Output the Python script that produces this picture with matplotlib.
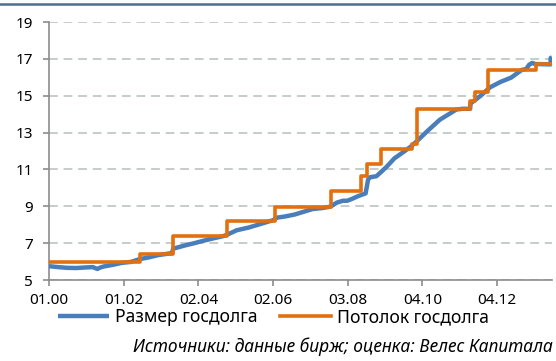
import datetime as dt
import matplotlib
matplotlib.use("Agg")
import matplotlib.pyplot as plt
import matplotlib.dates as mdates
from matplotlib.lines import Line2D

plt.rcParams['font.family'] = ['Noto Sans', 'DejaVu Sans']

# Размер госдолга США, трлн долл.
debt_dates = [
    "2000-01-01", "2000-04-01", "2000-07-01", "2000-10-01", "2001-01-01", "2001-03-15",
    "2001-05-01", "2001-06-01", "2001-07-01", "2001-10-01", "2002-01-01", "2002-04-01",
    "2002-06-28", "2002-10-01", "2003-01-01", "2003-05-20", "2003-06-01", "2003-10-01",
    "2004-01-01", "2004-04-01", "2004-07-01", "2004-10-15", "2004-11-20", "2005-03-01",
    "2005-07-01", "2005-10-01", "2006-01-01", "2006-03-15", "2006-03-25", "2006-07-01",
    "2006-10-01", "2007-01-01", "2007-04-01", "2007-07-01", "2007-09-28", "2007-12-01",
    "2008-02-01", "2008-03-15", "2008-05-01", "2008-07-01", "2008-09-15", "2008-10-10",
    "2008-11-01", "2009-01-01", "2009-02-15", "2009-04-15", "2009-07-01", "2009-10-01",
    "2009-12-15", "2010-02-15", "2010-06-01", "2010-10-01", "2011-03-15", "2011-05-16",
    "2011-08-01", "2011-08-05", "2011-11-15", "2012-02-15", "2012-06-01", "2012-09-15",
    "2012-12-31", "2013-02-15", "2013-03-15", "2013-04-15", "2013-05-15", "2013-10-16",
    "2013-10-18", "2013-10-31",
]
debt_values = [
    5.75, 5.70, 5.66, 5.65, 5.68, 5.70,
    5.60, 5.68, 5.73, 5.82, 5.93, 5.98,
    6.13, 6.23, 6.35, 6.46, 6.70, 6.88,
    7.00, 7.13, 7.25, 7.38, 7.45, 7.70,
    7.85, 8.00, 8.15, 8.27, 8.37, 8.45,
    8.55, 8.70, 8.85, 8.90, 8.98, 9.20,
    9.30, 9.30, 9.40, 9.55, 9.70, 10.45,
    10.58, 10.63, 10.85, 11.15, 11.60, 11.95,
    12.25, 12.55, 13.10, 13.70, 14.25, 14.29,
    14.29, 14.58, 15.00, 15.45, 15.75, 15.98,
    16.40, 16.45, 16.68, 16.78, 16.72, 16.70,
    17.05, 17.08,
]

# Потолок госдолга США, трлн долл.
ceiling_dates = [
    "2000-01-01", "2002-06-28", "2003-05-27", "2004-11-19", "2006-03-20", "2007-09-29",
    "2008-07-30", "2008-10-03", "2009-02-17", "2009-12-28", "2010-02-12", "2011-08-02",
    "2011-09-22", "2012-01-30", "2013-05-19", "2013-10-31",
]
ceiling_values = [
    5.95, 6.40, 7.38, 8.18, 8.97, 9.82,
    10.62, 11.32, 12.10, 12.39, 14.29, 14.69,
    15.19, 16.39, 16.70, 16.70,
]

y_ticks = [5, 7, 9, 11, 13, 15, 17, 19]

to_date = lambda s: dt.datetime.strptime(s, "%Y-%m-%d")
debt_x = [to_date(s) for s in debt_dates]
ceil_x = [to_date(s) for s in ceiling_dates]

fig = plt.figure(figsize=(5.56, 3.61), dpi=100)
ax = fig.add_axes([49 / 556, 81 / 361, 503 / 556, 258 / 361])

blue = "#4a7ebb"
orange = "#e3700f"

ax.plot(debt_x, debt_values, color=blue, lw=3.2, solid_capstyle="butt", zorder=3,
        label="Размер госдолга")
ax.step(ceil_x, ceiling_values, where="post", color=orange, lw=2.6, zorder=4,
        label="Потолок госдолга")

start = dt.datetime(2000, 1, 1)
x_ticks = [start + dt.timedelta(days=750 * i) for i in range(7)]
ax.set_xticks(x_ticks)
ax.xaxis.set_major_formatter(mdates.DateFormatter("%m.%y"))
ax.set_xlim(start, dt.datetime(2013, 10, 31))

ax.set_ylim(5, 19)
ax.set_yticks(y_ticks)
ax.yaxis.grid(True, color="#c5cccb", lw=1.4, dashes=(4.5, 3))
ax.set_axisbelow(True)

for side in ("top", "right"):
    ax.spines[side].set_visible(False)
for side in ("left", "bottom"):
    ax.spines[side].set_color("#8c8c8c")
    ax.spines[side].set_linewidth(1.2)

ax.tick_params(axis="both", colors="#8c8c8c", labelcolor="black", labelsize=11,
               length=4.5, width=1.2)
ax.tick_params(axis="y", pad=7)
ax.tick_params(axis="x", pad=5)

fig.legend(loc="center", bbox_to_anchor=(0.492, 1 - 317 / 361), ncol=2, frameon=False,
           fontsize=12.6, handlelength=2.9, handletextpad=0.35, columnspacing=1.3,
           borderpad=0, borderaxespad=0)

fig.text(553 / 556, 1 - 352 / 361, "Источники: данные бирж; оценка: Велес Капитала",
         fontsize=12.5, style="italic", ha="right", va="baseline")

# верхняя линия-рамка
fig.add_artist(Line2D([0, 1], [1 - 4 / 361, 1 - 4 / 361], color="#4d6e8c", lw=1.8))

fig.savefig("out.png", dpi=100)
